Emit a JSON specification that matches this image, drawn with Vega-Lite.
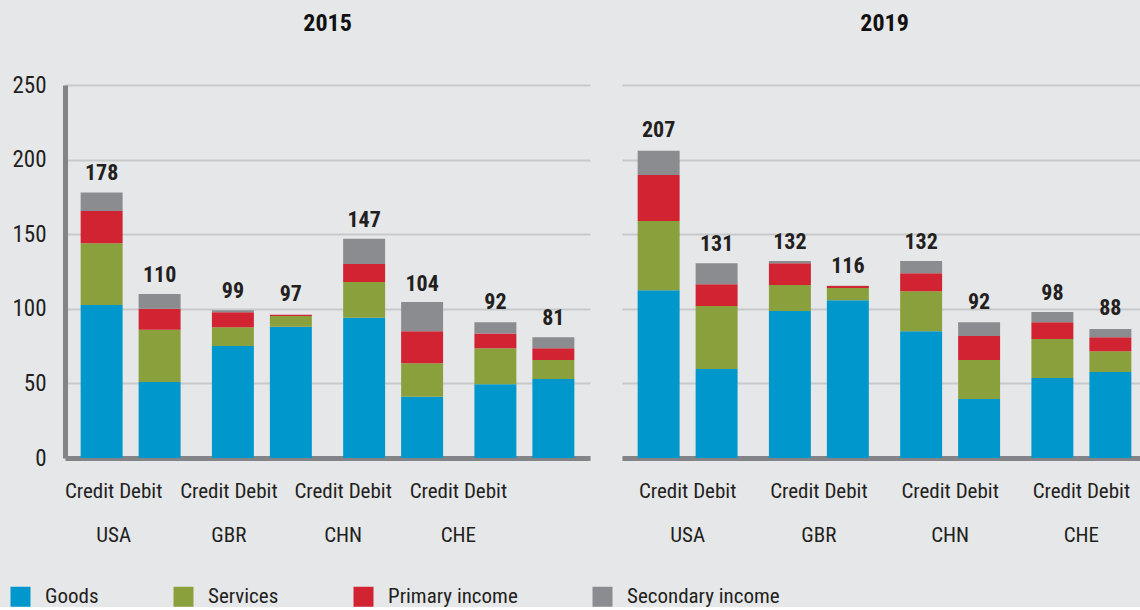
{
  "$schema": "https://vega.github.io/schema/vega-lite/v6.json",
  "background": "#e6e7e9",
  "padding": {"left": 10, "top": 12, "right": -7, "bottom": 0},
  "datasets": {
    "bars": [
      {"year": 2015, "country": "USA", "type": "Credit", "component": "Goods", "value": 102.5},
      {"year": 2015, "country": "USA", "type": "Credit", "component": "Services", "value": 41.5},
      {"year": 2015, "country": "USA", "type": "Credit", "component": "Primary income", "value": 21.5},
      {"year": 2015, "country": "USA", "type": "Credit", "component": "Secondary income", "value": 12.5},
      {"year": 2015, "country": "USA", "type": "Debit", "component": "Goods", "value": 51},
      {"year": 2015, "country": "USA", "type": "Debit", "component": "Services", "value": 35},
      {"year": 2015, "country": "USA", "type": "Debit", "component": "Primary income", "value": 14},
      {"year": 2015, "country": "USA", "type": "Debit", "component": "Secondary income", "value": 10},
      {"year": 2015, "country": "GBR", "type": "Credit", "component": "Goods", "value": 75},
      {"year": 2015, "country": "GBR", "type": "Credit", "component": "Services", "value": 12.7},
      {"year": 2015, "country": "GBR", "type": "Credit", "component": "Primary income", "value": 10},
      {"year": 2015, "country": "GBR", "type": "Credit", "component": "Secondary income", "value": 1.3},
      {"year": 2015, "country": "GBR", "type": "Debit", "component": "Goods", "value": 88},
      {"year": 2015, "country": "GBR", "type": "Debit", "component": "Services", "value": 7.2},
      {"year": 2015, "country": "GBR", "type": "Debit", "component": "Primary income", "value": 0.8},
      {"year": 2015, "country": "GBR", "type": "Debit", "component": "Secondary income", "value": 0},
      {"year": 2015, "country": "CHN", "type": "Credit", "component": "Goods", "value": 94},
      {"year": 2015, "country": "CHN", "type": "Credit", "component": "Services", "value": 24},
      {"year": 2015, "country": "CHN", "type": "Credit", "component": "Primary income", "value": 12},
      {"year": 2015, "country": "CHN", "type": "Credit", "component": "Secondary income", "value": 17},
      {"year": 2015, "country": "CHN", "type": "Debit", "component": "Goods", "value": 41},
      {"year": 2015, "country": "CHN", "type": "Debit", "component": "Services", "value": 22.5},
      {"year": 2015, "country": "CHN", "type": "Debit", "component": "Primary income", "value": 21.5},
      {"year": 2015, "country": "CHN", "type": "Debit", "component": "Secondary income", "value": 19.5},
      {"year": 2015, "country": "CHE", "type": "Credit", "component": "Goods", "value": 49.5},
      {"year": 2015, "country": "CHE", "type": "Credit", "component": "Services", "value": 24},
      {"year": 2015, "country": "CHE", "type": "Credit", "component": "Primary income", "value": 10},
      {"year": 2015, "country": "CHE", "type": "Credit", "component": "Secondary income", "value": 7.5},
      {"year": 2015, "country": "CHE", "type": "Debit", "component": "Goods", "value": 53},
      {"year": 2015, "country": "CHE", "type": "Debit", "component": "Services", "value": 12.6},
      {"year": 2015, "country": "CHE", "type": "Debit", "component": "Primary income", "value": 8},
      {"year": 2015, "country": "CHE", "type": "Debit", "component": "Secondary income", "value": 7.4},
      {"year": 2019, "country": "USA", "type": "Credit", "component": "Goods", "value": 112.5},
      {"year": 2019, "country": "USA", "type": "Credit", "component": "Services", "value": 46.3},
      {"year": 2019, "country": "USA", "type": "Credit", "component": "Primary income", "value": 30.8},
      {"year": 2019, "country": "USA", "type": "Credit", "component": "Secondary income", "value": 16.4},
      {"year": 2019, "country": "USA", "type": "Debit", "component": "Goods", "value": 59.6},
      {"year": 2019, "country": "USA", "type": "Debit", "component": "Services", "value": 42.2},
      {"year": 2019, "country": "USA", "type": "Debit", "component": "Primary income", "value": 14.7},
      {"year": 2019, "country": "USA", "type": "Debit", "component": "Secondary income", "value": 14.1},
      {"year": 2019, "country": "GBR", "type": "Credit", "component": "Goods", "value": 98.5},
      {"year": 2019, "country": "GBR", "type": "Credit", "component": "Services", "value": 17.4},
      {"year": 2019, "country": "GBR", "type": "Credit", "component": "Primary income", "value": 14.7},
      {"year": 2019, "country": "GBR", "type": "Credit", "component": "Secondary income", "value": 1.4},
      {"year": 2019, "country": "GBR", "type": "Debit", "component": "Goods", "value": 105.8},
      {"year": 2019, "country": "GBR", "type": "Debit", "component": "Services", "value": 8.1},
      {"year": 2019, "country": "GBR", "type": "Debit", "component": "Primary income", "value": 1.3},
      {"year": 2019, "country": "GBR", "type": "Debit", "component": "Secondary income", "value": 0.3},
      {"year": 2019, "country": "CHN", "type": "Credit", "component": "Goods", "value": 85},
      {"year": 2019, "country": "CHN", "type": "Credit", "component": "Services", "value": 26.8},
      {"year": 2019, "country": "CHN", "type": "Credit", "component": "Primary income", "value": 12.1},
      {"year": 2019, "country": "CHN", "type": "Credit", "component": "Secondary income", "value": 8.1},
      {"year": 2019, "country": "CHN", "type": "Debit", "component": "Goods", "value": 39.5},
      {"year": 2019, "country": "CHN", "type": "Debit", "component": "Services", "value": 26.1},
      {"year": 2019, "country": "CHN", "type": "Debit", "component": "Primary income", "value": 16.1},
      {"year": 2019, "country": "CHN", "type": "Debit", "component": "Secondary income", "value": 9.3},
      {"year": 2019, "country": "CHE", "type": "Credit", "component": "Goods", "value": 53.6},
      {"year": 2019, "country": "CHE", "type": "Credit", "component": "Services", "value": 26.1},
      {"year": 2019, "country": "CHE", "type": "Credit", "component": "Primary income", "value": 11.3},
      {"year": 2019, "country": "CHE", "type": "Credit", "component": "Secondary income", "value": 6.8},
      {"year": 2019, "country": "CHE", "type": "Debit", "component": "Goods", "value": 57.6},
      {"year": 2019, "country": "CHE", "type": "Debit", "component": "Services", "value": 14},
      {"year": 2019, "country": "CHE", "type": "Debit", "component": "Primary income", "value": 9.4},
      {"year": 2019, "country": "CHE", "type": "Debit", "component": "Secondary income", "value": 5.4}
    ],
    "totals": [
      {"year": 2015, "country": "USA", "type": "Credit", "total": 178},
      {"year": 2015, "country": "USA", "type": "Debit", "total": 110},
      {"year": 2015, "country": "GBR", "type": "Credit", "total": 99},
      {"year": 2015, "country": "GBR", "type": "Debit", "total": 97},
      {"year": 2015, "country": "CHN", "type": "Credit", "total": 147},
      {"year": 2015, "country": "CHN", "type": "Debit", "total": 104},
      {"year": 2015, "country": "CHE", "type": "Credit", "total": 92},
      {"year": 2015, "country": "CHE", "type": "Debit", "total": 81},
      {"year": 2019, "country": "USA", "type": "Credit", "total": 207},
      {"year": 2019, "country": "USA", "type": "Debit", "total": 131},
      {"year": 2019, "country": "GBR", "type": "Credit", "total": 132},
      {"year": 2019, "country": "GBR", "type": "Debit", "total": 116},
      {"year": 2019, "country": "CHN", "type": "Credit", "total": 132},
      {"year": 2019, "country": "CHN", "type": "Debit", "total": 92},
      {"year": 2019, "country": "CHE", "type": "Credit", "total": 98},
      {"year": 2019, "country": "CHE", "type": "Debit", "total": 88}
    ]
  },
  "config": {
    "font": "Liberation Sans Narrow, Roboto Condensed, DejaVu Sans Condensed, Roboto, sans-serif",
    "view": {"stroke": null},
    "title": {"fontSize": 24, "fontWeight": "bold", "color": "#111111", "anchor": "middle"},
    "axis": {
      "labelFontSize": 21,
      "labelColor": "#231f20",
      "domainColor": "#838487",
      "domainWidth": 5,
      "gridColor": "#c8c9cb",
      "gridWidth": 2,
      "ticks": false,
      "tickSize": 0,
      "title": null
    },
    "legend": {
      "labelFontSize": 21,
      "labelColor": "#231f20",
      "symbolType": "square",
      "symbolSize": 400,
      "symbolStrokeWidth": 0,
      "symbolOpacity": 1,
      "labelOffset": 14,
      "padding": 0,
      "title": null
    }
  },
  "spacing": 32,
  "hconcat": [
    {
      "width": 525,
      "height": 373,
      "title": {"text": "2015", "offset": 38},
      "encoding": {
        "x": {
          "field": "country", "type": "nominal",
          "sort": ["USA", "GBR", "CHN", "CHE"],
          "scale": {"paddingInner": 0, "paddingOuter": 0},
          "axis": {
            "labelExpr": "['Credit Debit', datum.value]",
            "labelAngle": 0,
            "labelBaseline": "top",
            "labelLineHeight": 44,
            "labelPadding": 22,
            "grid": false,
            "labelOffset": {
              "condition": [
                {"test": "datum.value === 'USA'", "value": -17},
                {"test": "datum.value === 'GBR'", "value": -33},
                {"test": "datum.value === 'CHN'", "value": -50},
                {"test": "datum.value === 'CHE'", "value": -66}
              ],
              "value": 0
            }
          }
        },
        "xOffset": {
          "field": "type", "type": "nominal",
          "sort": ["Credit", "Debit"],
          "scale": {"paddingInner": 0.276, "paddingOuter": 0.27}
        }
      },
      "layer": [
        {
          "data": {"name": "bars"},
          "transform": [
            {"filter": "datum.year === 2015"},
            {"calculate": "indexof(['Goods', 'Services', 'Primary income', 'Secondary income'], datum.component)", "as": "stackOrder"}
          ],
          "mark": {"type": "bar"},
          "encoding": {
            "y": {
              "field": "value", "type": "quantitative", "stack": "zero",
              "scale": {"domain": [0, 250], "nice": false},
              "axis": {"values": [0, 50, 100, 150, 200, 250], "labelPadding": 19, "labelFontSize": 23, "grid": true}
            },
            "order": {"field": "stackOrder", "type": "quantitative", "sort": "ascending"},
            "color": {
              "field": "component", "type": "nominal",
              "sort": ["Goods", "Services", "Primary income", "Secondary income"],
              "scale": {
                "domain": ["Goods", "Services", "Primary income", "Secondary income"],
                "range": ["#0098cc", "#89a03d", "#d22333", "#8b8c90"]
              },
              "legend": {
                "orient": "none",
                "direction": "horizontal",
                "columns": 4,
                "columnPadding": 74,
                "gridAlign": "each",
                "legendX": -55,
                "legendY": 501
              }
            }
          }
        },
        {
          "data": {"name": "totals"},
          "transform": [{"filter": "datum.year === 2015"}],
          "mark": {"type": "text", "fontSize": 22, "fontWeight": "bold", "color": "#231f20", "baseline": "alphabetic", "dy": -12},
          "encoding": {
            "y": {"field": "total", "type": "quantitative"},
            "text": {"field": "total", "type": "quantitative"}
          }
        }
      ]
    },
    {
      "width": 525,
      "height": 373,
      "title": {"text": "2019", "offset": 49},
      "encoding": {
        "x": {
          "field": "country", "type": "nominal",
          "sort": ["USA", "GBR", "CHN", "CHE"],
          "scale": {"paddingInner": 0, "paddingOuter": 0},
          "axis": {
            "labelExpr": "['Credit Debit', datum.value]",
            "labelAngle": 0,
            "labelBaseline": "top",
            "labelLineHeight": 44,
            "labelPadding": 22,
            "grid": false
          }
        },
        "xOffset": {
          "field": "type", "type": "nominal",
          "sort": ["Credit", "Debit"],
          "scale": {"paddingInner": 0.276, "paddingOuter": 0.27}
        }
      },
      "layer": [
        {
          "data": {"name": "bars"},
          "transform": [
            {"filter": "datum.year === 2019"},
            {"calculate": "indexof(['Goods', 'Services', 'Primary income', 'Secondary income'], datum.component)", "as": "stackOrder"}
          ],
          "mark": {"type": "bar"},
          "encoding": {
            "y": {
              "field": "value", "type": "quantitative", "stack": "zero",
              "scale": {"domain": [0, 250], "nice": false},
              "axis": {"values": [0, 50, 100, 150, 200, 250], "labels": false, "domain": false, "grid": true}
            },
            "order": {"field": "stackOrder", "type": "quantitative", "sort": "ascending"},
            "color": {
              "field": "component", "type": "nominal",
              "sort": ["Goods", "Services", "Primary income", "Secondary income"],
              "scale": {
                "domain": ["Goods", "Services", "Primary income", "Secondary income"],
                "range": ["#0098cc", "#89a03d", "#d22333", "#8b8c90"]
              }
            }
          }
        },
        {
          "data": {"name": "totals"},
          "transform": [{"filter": "datum.year === 2019"}],
          "mark": {"type": "text", "fontSize": 22, "fontWeight": "bold", "color": "#231f20", "baseline": "alphabetic", "dy": -12},
          "encoding": {
            "y": {"field": "total", "type": "quantitative"},
            "text": {"field": "total", "type": "quantitative"}
          }
        }
      ]
    }
  ]
}
